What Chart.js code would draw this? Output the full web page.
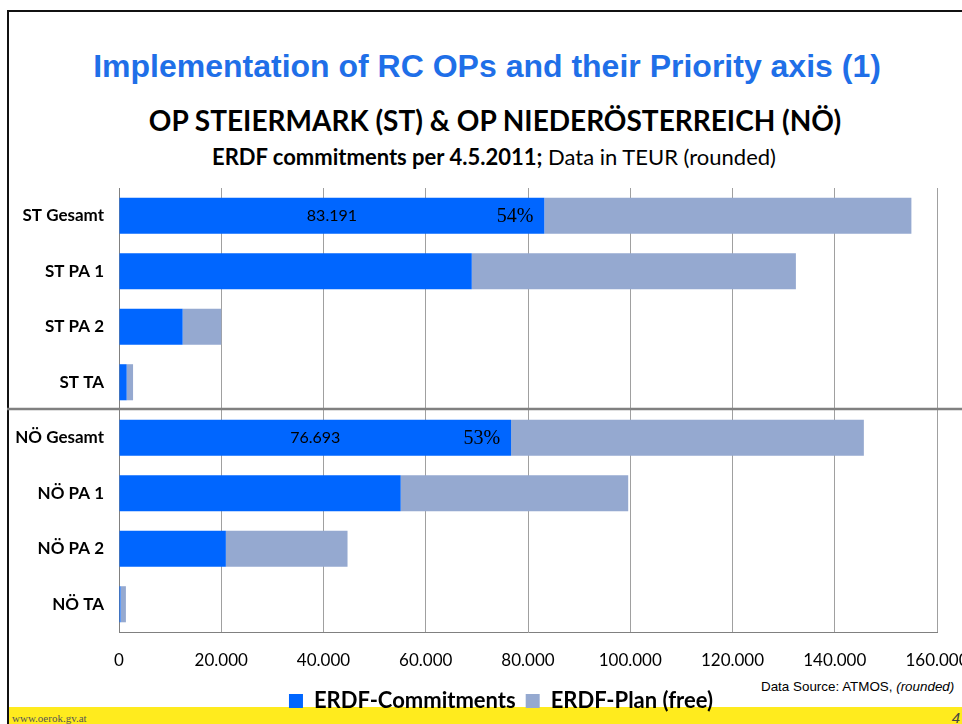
<!DOCTYPE html>
<html>
<head>
<meta charset="utf-8">
<script src="https://cdn.jsdelivr.net/npm/chart.js@4.4.0/dist/chart.umd.min.js"></script>
<style>
html, body { margin: 0; padding: 0; width: 962px; height: 724px; overflow: hidden; background: #fff; }
body { position: relative; font-family: Lato, "Open Sans", sans-serif; }
.frame-top { position: absolute; left: 7px; top: 10px; width: 955px; height: 2px; background: #111; }
.frame-left { position: absolute; left: 7px; top: 10px; width: 2px; height: 714px; background: #111; }
.footer { position: absolute; left: 9px; top: 707px; width: 953px; height: 17px; background: #ffeb1e; }
.footer .url { position: absolute; left: 3px; top: 5px; font: 11px "Liberation Serif", serif; color: #555; }
.footer .page { position: absolute; right: 2px; top: 2px; font: italic 15px "Liberation Sans", sans-serif; color: #444; }
.title { position: absolute; left: 0; text-align: center; white-space: nowrap; }
#t1 { top: 47px; width: 974px; font: bold 32px "Liberation Sans", Arial, sans-serif; color: #1f6fe8; line-height: 38px; }
#t2 { top: 103px; width: 990px; font: bold 28px Lato, sans-serif; color: #000; line-height: 34px; }
#t3 { top: 145px; width: 988px; font: 22px Lato, sans-serif; color: #000; line-height: 24px; }
#t3 b { font-weight: bold; }
.source { position: absolute; left: 761px; top: 679px; font: 13.4px "Liberation Sans", Arial, sans-serif; color: #000; }
#wrap { position: absolute; left: 0; top: 180px; width: 1000px; height: 542px; }
</style>
</head>
<body>
<div class="footer"><span class="url">www.oerok.gv.at</span><span class="page">4</span></div>
<div class="frame-top"></div>
<div class="frame-left"></div>
<div class="title" id="t1">Implementation of RC OPs and their Priority axis (1)</div>
<div class="title" id="t2">OP STEIERMARK (ST) &amp; OP NIEDERÖSTERREICH (NÖ)</div>
<div class="title" id="t3"><b>ERDF commitments per 4.5.2011;</b> Data in TEUR (rounded)</div>
<div class="source">Data Source: ATMOS, <i>(rounded)</i></div>
<div id="wrap"><canvas id="chart"></canvas></div>
<script>
// data in TEUR
var categories = ["ST Gesamt", "ST PA 1", "ST PA 2", "ST TA", "NÖ Gesamt", "NÖ PA 1", "NÖ PA 2", "NÖ TA"];
var commitments = [83191, 69000, 12450, 1500, 76693, 55100, 20900, 300];
var planFree = [71800, 63400, 7550, 1250, 69000, 44500, 23800, 1050];
var shareLabels = ["54%", "", "", "", "53%", "", "", ""];
var seriesNames = ["ERDF-Commitments", "ERDF-Plan (free)"];
var xTicks = [0, 20000, 40000, 60000, 80000, 100000, 120000, 140000, 160000];

function fmt(v) {
  return String(v).replace(/\B(?=(\d{3})+(?!\d))/g, ".");
}

// category labels are mirrored (so they are not clipped) and pushed back left of the axis
var mctx = document.createElement("canvas").getContext("2d");
mctx.font = "bold 17px Lato";
var widest = 0;
categories.forEach(function (c) { widest = Math.max(widest, mctx.measureText(c).width); });

// value + share inside the Gesamt bars, divider between ST and NÖ
var extras = {
  id: "extras",
  afterDatasetsDraw: function (chart) {
    var ctx = chart.ctx;
    var bars = chart.getDatasetMeta(0).data;
    ctx.save();
    ctx.fillStyle = "#000";
    ctx.textBaseline = "middle";
    for (var i = 0; i < bars.length; i++) {
      if (!shareLabels[i]) continue;
      var b = bars[i];
      ctx.font = "16px Lato";
      ctx.textAlign = "center";
      ctx.fillText(fmt(commitments[i]), (b.base + b.x) / 2, b.y);
      ctx.font = "20px 'Liberation Serif'";
      ctx.textAlign = "right";
      ctx.fillText(shareLabels[i], b.x - 11, b.y + 1);
    }
    var y = chart.scales.y;
    var yd = Math.round((y.getPixelForValue(3) + y.getPixelForValue(4)) / 2) - 1;
    ctx.strokeStyle = "#808080";
    ctx.lineWidth = 2.5;
    ctx.beginPath();
    ctx.moveTo(7, yd);
    ctx.lineTo(chart.width, yd);
    ctx.stroke();
    ctx.restore();
  }
};

new Chart(document.getElementById("chart"), {
  type: "bar",
  data: {
    labels: categories,
    datasets: [
      { label: seriesNames[0], data: commitments, backgroundColor: "#0066ff" },
      { label: seriesNames[1], data: planFree, backgroundColor: "#95a9d0" }
    ]
  },
  options: {
    indexAxis: "y",
    responsive: true,
    maintainAspectRatio: false,
    animation: false,
    layout: { padding: { top: 8, right: 63, bottom: 0, left: 65 } },
    datasets: { bar: { categoryPercentage: 1, barPercentage: 0.65 } },
    scales: {
      x: {
        stacked: true,
        min: 0,
        max: 160000,
        afterBuildTicks: function (s) { s.ticks = xTicks.map(function (v) { return { value: v }; }); },
        afterFit: function (s) { s.height = 48; },
        grid: { color: "#a0a0a0", drawTicks: false },
        border: { color: "#808080" },
        ticks: { color: "#000", font: { family: "Lato", size: 17 }, padding: 18, maxRotation: 0, callback: function (v) { return fmt(v); } }
      },
      y: {
        stacked: true,
        afterFit: function (s) { s.width = 54; },
        grid: { display: false, drawTicks: false },
        border: { color: "#808080" },
        ticks: { color: "#000", font: { family: "Lato", size: 17, weight: "bold" }, mirror: true, crossAlign: "far", padding: -15 - widest }
      }
    },
    plugins: {
      legend: {
        position: "bottom",
        labels: { color: "#000", font: { family: "Lato", size: 22, weight: "bold" }, boxWidth: 14, boxHeight: 14, padding: 10 }
      },
      tooltip: { enabled: false }
    }
  },
  plugins: [extras]
});
</script>
</body>
</html>
